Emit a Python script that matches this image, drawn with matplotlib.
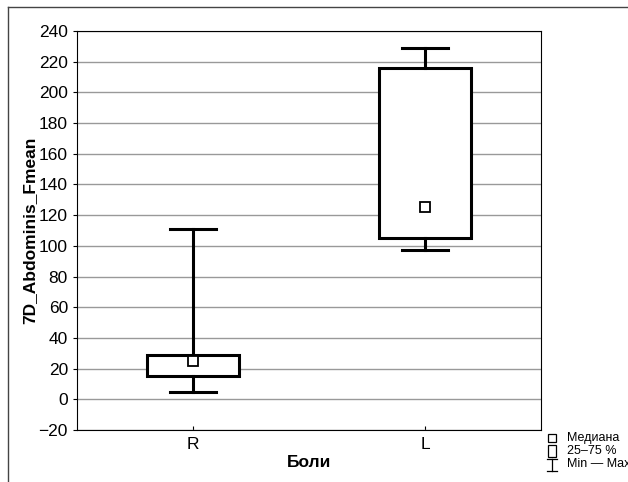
import matplotlib
matplotlib.use("Agg")
import matplotlib.pyplot as plt
from matplotlib.patches import Rectangle

plt.rcParams['font.family'] = ['Liberation Sans', 'DejaVu Sans']

# data
groups = ['R', 'L']
medians = [25, 125]
q1 = [15, 105]
q3 = [29, 216]
mins = [5, 97]
maxs = [111, 229]
yticks = list(range(-20, 241, 20))

fig = plt.figure(figsize=(6.28, 4.82), dpi=100)
ax = fig.add_axes([77 / 628, 52 / 482, 464 / 628, 399 / 482])

stats = []
for i, g in enumerate(groups):
    stats.append(dict(label=g, med=medians[i], q1=q1[i], q3=q3[i],
                      whislo=mins[i], whishi=maxs[i], fliers=[]))

ax.bxp(stats, positions=range(len(groups)), widths=0.4, showfliers=False,
       patch_artist=True,
       boxprops=dict(facecolor='white', edgecolor='black', linewidth=2.2),
       whiskerprops=dict(color='black', linewidth=2.2),
       capprops=dict(color='black', linewidth=2.2),
       medianprops=dict(linewidth=0),
       capwidths=0.2, zorder=3)
ax.plot(range(len(groups)), medians, ls='none', marker='s', markersize=7,
        markerfacecolor='white', markeredgecolor='black', markeredgewidth=1.3,
        zorder=4)

ax.set_xlim(-0.5, 1.5)
ax.set_ylim(-20, 240)
ax.set_yticks(yticks)
ax.set_yticklabels([str(t).replace('-', '\u2212') for t in yticks])
ax.yaxis.grid(True, color='#999999', linewidth=1.0)
ax.set_axisbelow(True)
ax.tick_params(axis='both', labelsize=12.5, direction='out', length=3, width=0.8)
ax.tick_params(axis='x', direction='in', length=3, pad=5)
for s in ax.spines.values():
    s.set_linewidth(0.8)

ax.set_xlabel('Боли', fontsize=12.5, fontweight='bold', labelpad=2)
ax.set_ylabel('7D_Abdominis_Fmean', fontsize=12.5, fontweight='bold', labelpad=1)

# outer frame (only top and left edges are visible)
fig.lines.append(plt.Line2D([8 / 628, 8 / 628], [0, 1 - 7 / 482],
                            transform=fig.transFigure, color='#444444', lw=1.0))
fig.lines.append(plt.Line2D([8 / 628, 1], [1 - 7 / 482, 1 - 7 / 482],
                            transform=fig.transFigure, color='#444444', lw=1.0))

# legend (bottom right)
fig.patches.append(Rectangle((548 / 628, 1 - 442 / 482), 8 / 628, 8 / 482,
                             transform=fig.transFigure, fill=False,
                             edgecolor='black', linewidth=0.9))
fig.text(567 / 628, 1 - 438 / 482, 'Медиана', fontsize=9, va='center')
fig.patches.append(Rectangle((548 / 628, 1 - 457 / 482), 8 / 628, 12 / 482,
                             transform=fig.transFigure, fill=False,
                             edgecolor='black', linewidth=0.9))
fig.text(567 / 628, 1 - 451 / 482, '25–75 %', fontsize=9, va='center')
fig.lines.append(plt.Line2D([552 / 628, 552 / 628], [1 - 471 / 482, 1 - 459 / 482],
                            transform=fig.transFigure, color='black', lw=0.9))
fig.lines.append(plt.Line2D([547 / 628, 557 / 628], [1 - 459 / 482, 1 - 459 / 482],
                            transform=fig.transFigure, color='black', lw=0.9))
fig.lines.append(plt.Line2D([547 / 628, 557 / 628], [1 - 471 / 482, 1 - 471 / 482],
                            transform=fig.transFigure, color='black', lw=0.9))
fig.text(567 / 628, 1 - 464 / 482, 'Min — Max', fontsize=9, va='center')

fig.savefig('out.png', dpi=100)
